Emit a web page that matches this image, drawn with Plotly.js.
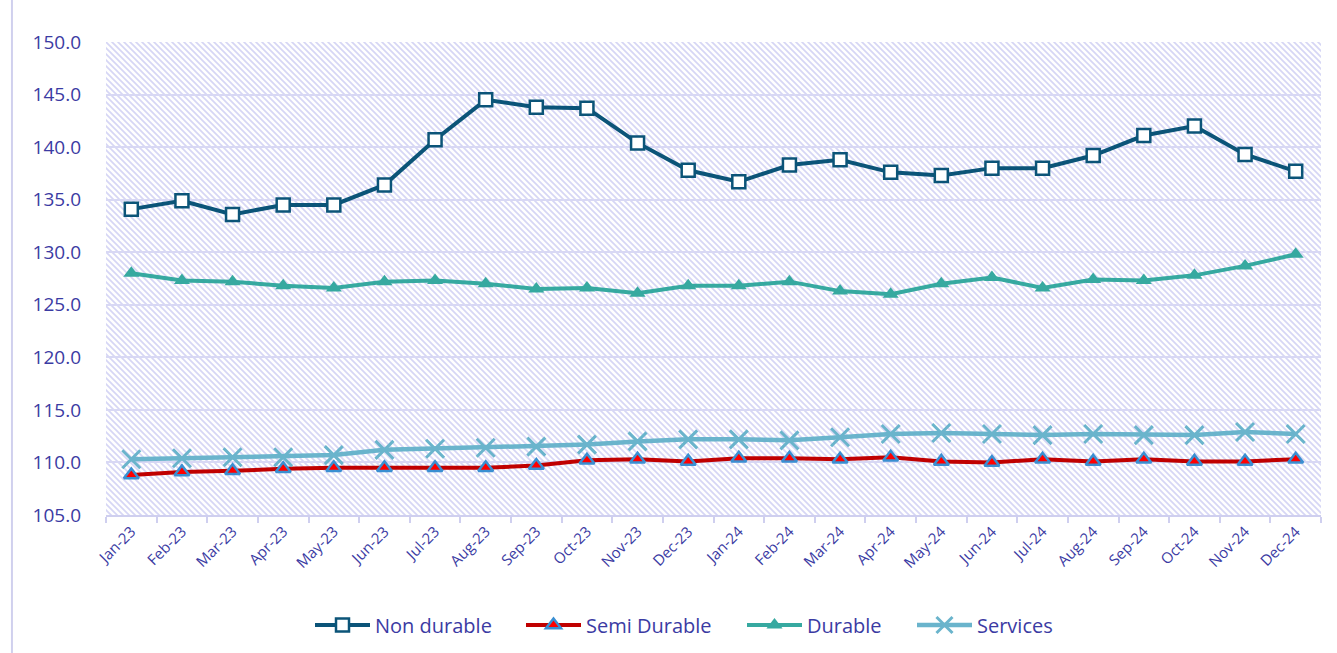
<!DOCTYPE html>
<html>
<head>
<meta charset="utf-8">
<script src="https://cdn.plot.ly/plotly-3.0.1.min.js"></script>
<style>html,body{margin:0;padding:0;background:#fff;}#chart{width:1337px;height:653px;}</style>
</head>
<body>
<div id="chart"></div>
<script>
const months = ["Jan-23","Feb-23","Mar-23","Apr-23","May-23","Jun-23","Jul-23","Aug-23","Sep-23","Oct-23","Nov-23","Dec-23",
                "Jan-24","Feb-24","Mar-24","Apr-24","May-24","Jun-24","Jul-24","Aug-24","Sep-24","Oct-24","Nov-24","Dec-24"];
const nonDurable  = [134.1,134.9,133.6,134.5,134.5,136.4,140.7,144.5,143.8,143.7,140.4,137.8,
                     136.7,138.3,138.8,137.6,137.3,138.0,138.0,139.2,141.1,142.0,139.3,137.7];
const semiDurable = [108.8,109.1,109.2,109.4,109.5,109.5,109.5,109.5,109.7,110.2,110.3,110.1,
                     110.4,110.4,110.3,110.5,110.1,110.0,110.3,110.1,110.3,110.1,110.1,110.3];
const durable     = [128.0,127.3,127.2,126.8,126.6,127.2,127.3,127.0,126.5,126.6,126.1,126.8,
                     126.8,127.2,126.3,126.0,127.0,127.6,126.6,127.4,127.3,127.8,128.7,129.8];
const services    = [110.3,110.4,110.5,110.5,110.7,111.2,111.3,111.4,111.5,111.7,112.0,112.2,
                     112.2,112.1,112.4,112.7,112.8,112.7,112.6,112.7,112.6,112.6,112.9,112.7];
const yTicks = [105,110,115,120,125,130,135,140,145,150];

const textColor = "#3b3ba3";
const font = "Open Sans, Noto Sans, sans-serif";

// hatched background pattern as an svg image (diagonal "\" lines)
const W = 1215, H = 473, S = 6;
const hatch = `<svg xmlns="http://www.w3.org/2000/svg" width="${W}" height="${H}"><defs><pattern id="p" patternUnits="userSpaceOnUse" width="${S}" height="${S}"><rect width="${S}" height="${S}" fill="#ffffff"/><path d="M0,0 L${S},${S} M-2,${S-2} L2,${S+2} M${S-2},-2 L${S+2},2" stroke="#d6d6f5" stroke-width="1.7"/></pattern></defs><rect width="${W}" height="${H}" fill="url(#p)"/></svg>`;
const hatchSrc = "data:image/svg+xml;base64," + btoa(hatch);

const traces = [
  {x: months, y: nonDurable, name: "Non durable", type: "scatter", mode: "lines+markers", legend: "legend",
   line: {color: "#0b5478", width: 4},
   marker: {symbol: "square", size: 13, color: "#ffffff", line: {color: "#0b5478", width: 2.5}}},
  {x: months, y: semiDurable, name: "Semi Durable", type: "scatter", mode: "lines+markers", legend: "legend2",
   line: {color: "#c00000", width: 4},
   marker: {symbol: "triangle-up", size: 13, color: "#ff0000", line: {color: "#3a8fd2", width: 2.5}}},
  {x: months, y: durable, name: "Durable", type: "scatter", mode: "lines+markers", legend: "legend3",
   line: {color: "#36a9a0", width: 4},
   marker: {symbol: "triangle-up", size: 14, color: "#36a9a0"}},
  {x: months, y: services, name: "Services", type: "scatter", mode: "lines+markers", legend: "legend4",
   line: {color: "#6ab4cc", width: 4.5},
   marker: {symbol: "x-thin-open", size: 18, color: "#6ab4cc", line: {color: "#6ab4cc", width: 3}}}
];

function leg(px) {
  return {orientation: "h", xref: "container", yref: "container", x: px / 1337, xanchor: "left",
          y: (653 - 625) / 653, yanchor: "middle",
          font: {size: 20, color: textColor, family: font}, itemwidth: 55, bgcolor: "rgba(0,0,0,0)"};
}

const layout = {
  width: 1337, height: 653,
  margin: {l: 106, r: 16, t: 42, b: 138, autoexpand: false},
  paper_bgcolor: "#ffffff",
  plot_bgcolor: "rgba(0,0,0,0)",
  font: {family: font, color: textColor},
  showlegend: true,
  legend: leg(310), legend2: leg(521), legend3: leg(742), legend4: leg(912),
  xaxis: {type: "category", showgrid: false, showline: true, linecolor: "#cfcfef", linewidth: 2,
          ticks: "outside", tickson: "boundaries", ticklen: 6, tickcolor: "#cfcfef", tickwidth: 2,
          tickangle: -45, tickfont: {size: 15, color: textColor, family: font}, fixedrange: true,
          range: [-0.5, 23.5], automargin: false},
  yaxis: {range: [105, 150], tickvals: yTicks, ticktext: yTicks.map(v => v.toFixed(1)),
          showgrid: true, gridcolor: "#d8d8f4", gridwidth: 2, zeroline: false, showline: false,
          tickfont: {size: 19, color: textColor, family: font}, ticks: "", ticklabelstandoff: 24,
          automargin: false},
  images: [{source: hatchSrc, xref: "paper", yref: "paper", x: 0, y: 1, sizex: 1, sizey: 1,
            sizing: "stretch", layer: "below", xanchor: "left", yanchor: "top"}],
  shapes: [{type: "line", xref: "paper", yref: "paper", x0: -0.0774, x1: -0.0774, y0: -0.30, y1: 1.10,
            line: {color: "#d0d0ee", width: 2}}]
};

Plotly.newPlot("chart", traces, layout, {displayModeBar: false, staticPlot: true});
</script>
</body>
</html>
